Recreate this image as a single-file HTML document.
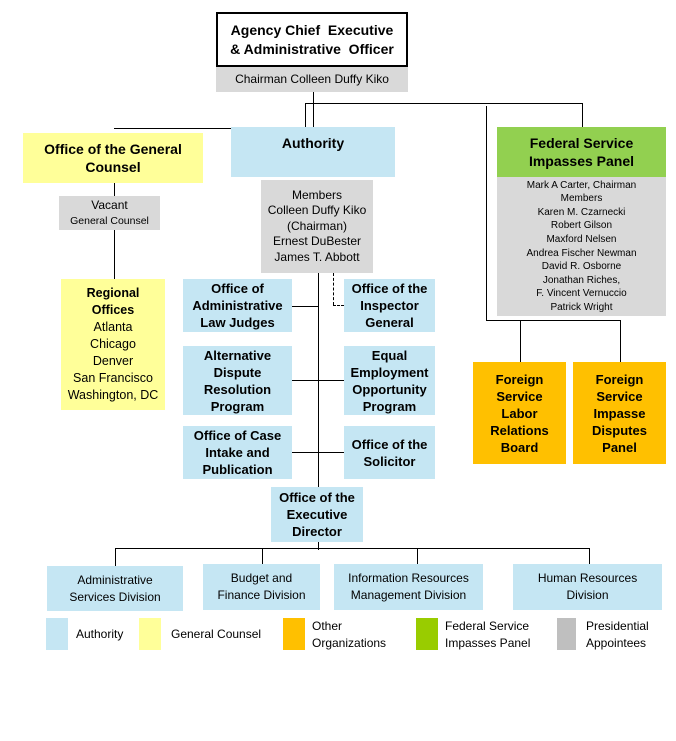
<!DOCTYPE html>
<html><head><style>
body{margin:0;width:676px;height:741px;background:#fff;position:relative;font-family:"Liberation Sans",Arial,sans-serif;overflow:hidden}
.b{position:absolute;display:flex;align-items:center;justify-content:center;text-align:center;box-sizing:border-box;color:#000;line-height:1.3}
.bl{background:#c5e6f3}.ye{background:#ffff99}.gr{background:#d9d9d9}.or{background:#ffc000}.gn{background:#92d050}
.t{font-weight:bold;font-size:13px}
.h{position:absolute;height:0;border-top:1px solid #000}
.v{position:absolute;width:0;border-left:1px solid #000}
.s{font-size:12px}
</style></head><body>
<div class="v" style="left:313px;top:92px;height:36px"></div>
<div class="h" style="left:305px;top:103px;width:277px"></div>
<div class="v" style="left:305px;top:103px;height:25px"></div>
<div class="h" style="left:114px;top:128px;width:191px"></div>
<div class="v" style="left:582px;top:103px;height:24px"></div>
<div class="v" style="left:486px;top:106px;height:214px"></div>
<div class="h" style="left:486px;top:320px;width:134px"></div>
<div class="v" style="left:520px;top:320px;height:42px"></div>
<div class="v" style="left:620px;top:320px;height:42px"></div>
<div class="v" style="left:114px;top:183px;height:96px"></div>
<div class="v" style="left:318px;top:273px;height:277px"></div>
<div class="v" style="left:333px;top:273px;height:32px;border-left-style:dashed"></div>
<div class="h" style="left:333px;top:305px;width:11px;border-top-style:dashed"></div>
<div class="h" style="left:292px;top:306px;width:26px"></div>
<div class="h" style="left:292px;top:380px;width:52px"></div>
<div class="h" style="left:292px;top:452px;width:52px"></div>
<div class="h" style="left:115px;top:548px;width:474px"></div>
<div class="v" style="left:115px;top:548px;height:18px"></div>
<div class="v" style="left:262px;top:548px;height:16px"></div>
<div class="v" style="left:417px;top:548px;height:16px"></div>
<div class="v" style="left:589px;top:548px;height:16px"></div>
<div class="b" style="left:216px;top:12px;width:192px;height:55px;border:2px solid #000;background:#fff;font-weight:bold;font-size:14px;line-height:19px">Agency Chief&nbsp; Executive<br>&amp; Administrative&nbsp; Officer</div>
<div class="b gr" style="left:216px;top:67px;width:192px;height:25px;font-size:12px">Chairman Colleen Duffy Kiko</div>
<div class="b ye t" style="left:23px;top:133px;width:180px;height:50px;font-size:14px">Office of the General<br>Counsel</div>
<div class="b bl t" style="left:231px;top:127px;width:164px;height:50px;font-size:14px;align-items:flex-start;padding-top:7px">Authority</div>
<div class="b gn t" style="left:497px;top:127px;width:169px;height:50px;font-size:14px">Federal Service<br>Impasses Panel</div>
<div class="b gr" style="left:497px;top:177px;width:169px;height:139px;font-size:10px;line-height:13.6px">Mark A Carter, Chairman<br>Members<br>Karen M. Czarnecki<br>Robert Gilson<br>Maxford Nelsen<br>Andrea Fischer Newman<br>David R. Osborne<br>Jonathan Riches,<br>F. Vincent Vernuccio<br>Patrick Wright</div>
<div class="b gr" style="left:59px;top:196px;width:101px;height:34px;font-size:12px;line-height:15px"><div>Vacant<br><span style="font-size:10.5px">General Counsel</span></div></div>
<div class="b gr" style="left:261px;top:180px;width:112px;height:93px;font-size:12px;line-height:15.5px">Members<br>Colleen Duffy Kiko<br>(Chairman)<br>Ernest DuBester<br>James T. Abbott</div>
<div class="b ye" style="left:61px;top:279px;width:104px;height:131px;font-size:12.5px;line-height:17px"><div><b>Regional<br>Offices</b><br>Atlanta<br>Chicago<br>Denver<br>San Francisco<br>Washington, DC</div></div>
<div class="b bl t" style="left:183px;top:279px;width:109px;height:53px;line-height:17px">Office of<br>Administrative<br>Law Judges</div>
<div class="b bl t" style="left:183px;top:346px;width:109px;height:69px;line-height:17px">Alternative<br>Dispute<br>Resolution<br>Program</div>
<div class="b bl t" style="left:183px;top:426px;width:109px;height:53px;line-height:17px">Office of Case<br>Intake and<br>Publication</div>
<div class="b bl t" style="left:344px;top:279px;width:91px;height:53px;line-height:17px">Office of the<br>Inspector<br>General</div>
<div class="b bl t" style="left:344px;top:346px;width:91px;height:69px;line-height:17px">Equal<br>Employment<br>Opportunity<br>Program</div>
<div class="b bl t" style="left:344px;top:426px;width:91px;height:53px;line-height:17px">Office of the<br>Solicitor</div>
<div class="b bl t" style="left:271px;top:487px;width:92px;height:55px;line-height:17px">Office of the<br>Executive<br>Director</div>
<div class="b or t" style="left:473px;top:362px;width:93px;height:102px;line-height:17px">Foreign<br>Service<br>Labor<br>Relations<br>Board</div>
<div class="b or t" style="left:573px;top:362px;width:93px;height:102px;line-height:17px">Foreign<br>Service<br>Impasse<br>Disputes<br>Panel</div>
<div class="b bl s" style="left:47px;top:566px;width:136px;height:45px;line-height:17px">Administrative<br>Services Division</div>
<div class="b bl s" style="left:203px;top:564px;width:117px;height:46px;line-height:17px">Budget and<br>Finance Division</div>
<div class="b bl s" style="left:334px;top:564px;width:149px;height:46px;line-height:17px">Information Resources<br>Management Division</div>
<div class="b bl s" style="left:513px;top:564px;width:149px;height:46px;line-height:17px">Human Resources<br>Division</div>
<div class="b" style="left:46px;top:618px;width:22px;height:32px;background:#c5e6f3"></div>
<div class="s" style="position:absolute;left:76px;top:627px">Authority</div>
<div class="b" style="left:139px;top:618px;width:22px;height:32px;background:#ffff99"></div>
<div class="s" style="position:absolute;left:171px;top:627px">General Counsel</div>
<div class="b" style="left:283px;top:618px;width:22px;height:32px;background:#ffc000"></div>
<div class="s" style="position:absolute;left:312px;top:618px;line-height:17px">Other<br>Organizations</div>
<div class="b" style="left:416px;top:618px;width:22px;height:32px;background:#99cc00"></div>
<div class="s" style="position:absolute;left:445px;top:618px;line-height:17px">Federal Service<br>Impasses Panel</div>
<div class="b" style="left:557px;top:618px;width:19px;height:32px;background:#bfbfbf"></div>
<div class="s" style="position:absolute;left:586px;top:618px;line-height:17px">Presidential<br>Appointees</div>
</body></html>
